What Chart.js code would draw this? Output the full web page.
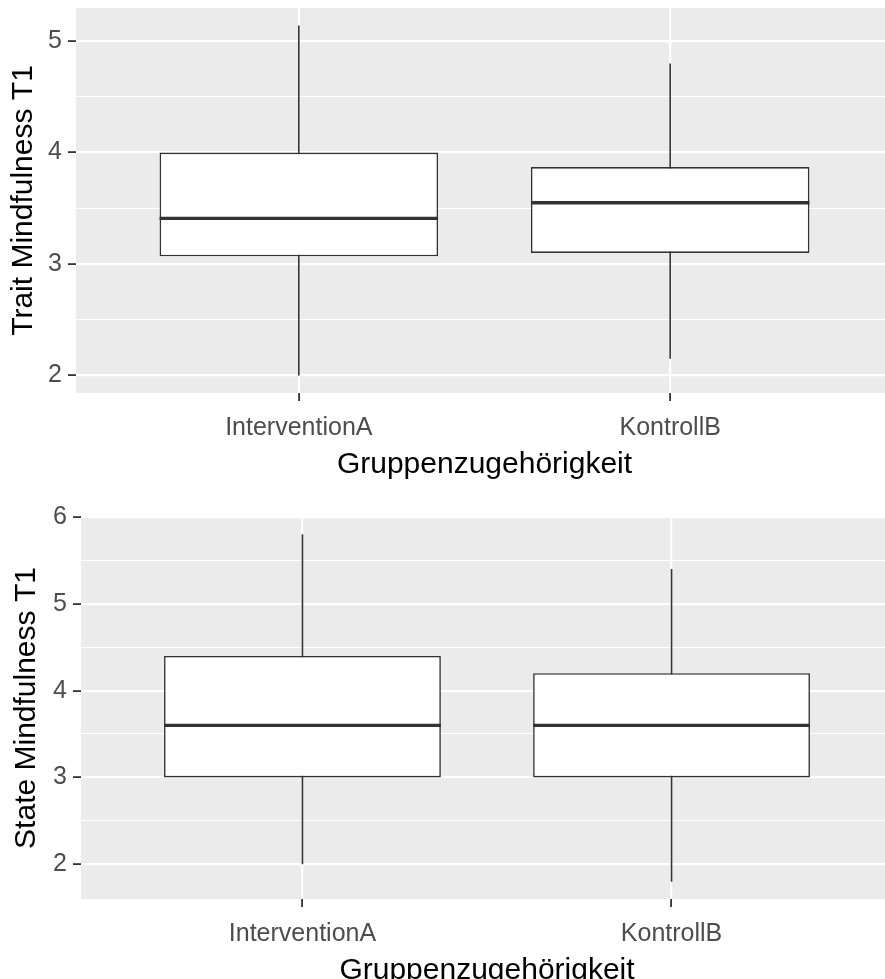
<!DOCTYPE html>
<html>
<head>
<meta charset="utf-8">
<script src="https://cdn.jsdelivr.net/npm/chart.js@4"></script>
<style>
  html, body { margin: 0; padding: 0; background: #fff; overflow: hidden; }
  .plot { position: relative; width: 893px; }
</style>
</head>
<body>
<div class="plot" style="height:493px"><canvas id="traitChart" width="893" height="493"></canvas></div>
<div class="plot" style="height:506px"><canvas id="stateChart" width="893" height="506"></canvas></div>
<script>
// groups on the x axis
const groups = ['InterventionA', 'KontrollB'];

// Trait Mindfulness T1 (box stats per group)
const traitLow  = [2.00, 2.15];
const traitQ1   = [3.07, 3.10];
const traitMed  = [3.41, 3.55];
const traitQ3   = [4.00, 3.87];
const traitHigh = [5.14, 4.80];

// State Mindfulness T1
const stateLow  = [2.0, 1.8];
const stateQ1   = [3.0, 3.0];
const stateMed  = [3.6, 3.6];
const stateQ3   = [4.4, 4.2];
const stateHigh = [5.8, 5.4];

const FONT = "'Liberation Sans', Arial, sans-serif";
const isMajor = (ctx) => ctx.tick && Number.isInteger(ctx.tick.value);

// grey ggplot panel
const panelBg = {
  id: 'panelBg',
  beforeDraw(chart) {
    const { ctx, chartArea: a } = chart;
    ctx.save();
    ctx.fillStyle = '#ebebeb';
    ctx.fillRect(a.left, a.top, a.right - a.left, a.bottom - a.top);
    ctx.restore();
  }
};

function boxPlugin(s) {
  return {
    id: 'boxParts',
    beforeDatasetsDraw(chart) {
      const { ctx, scales: { x, y } } = chart;
      ctx.save();
      ctx.strokeStyle = '#333333';
      ctx.lineWidth = 1.6;
      s.low.forEach((lo, i) => {
        const px = x.getPixelForValue(i + 1);
        ctx.beginPath();
        ctx.moveTo(px, y.getPixelForValue(s.high[i]));
        ctx.lineTo(px, y.getPixelForValue(lo));
        ctx.stroke();
      });
      ctx.restore();
    },
    afterDatasetsDraw(chart) {
      const { ctx, scales: { y } } = chart;
      const bars = chart.getDatasetMeta(0).data;
      ctx.save();
      ctx.strokeStyle = '#333333';
      ctx.lineWidth = 3.4;
      s.med.forEach((m, i) => {
        const bar = bars[i];
        const py = y.getPixelForValue(m);
        ctx.beginPath();
        ctx.moveTo(bar.x - bar.width / 2, py);
        ctx.lineTo(bar.x + bar.width / 2, py);
        ctx.stroke();
      });
      ctx.restore();
    }
  };
}

function makeBoxChart(id, yTitle, s, axisWidth, padTop, titlePad) {
  const lo = Math.min(...s.low), hi = Math.max(...s.high);
  const pad = (hi - lo) * 0.05;
  new Chart(document.getElementById(id), {
    type: 'bar',
    data: {
      datasets: [{
        data: groups.map((g, i) => ({ x: i + 1, y: [s.q1[i], s.q3[i]] })),
        backgroundColor: '#ffffff',
        borderColor: '#333333',
        borderWidth: 1.6,
        borderSkipped: false,
        categoryPercentage: 1,
        barPercentage: 0.75
      }]
    },
    options: {
      responsive: false,
      animation: false,
      events: [],
      layout: { padding: { top: padTop, right: 0, bottom: 0, left: 0 } },
      plugins: { legend: { display: false }, tooltip: { enabled: false } },
      scales: {
        x: {
          type: 'linear',
          min: 0.4,
          max: 2.6,
          offset: false,
          afterFit(sc) { sc.height = 100; sc.paddingLeft = 0; sc.paddingRight = 0; },
          border: { display: false },
          grid: { offset: false, color: '#ffffff', lineWidth: 2.2, tickColor: '#333333', tickWidth: 1.8, tickLength: 8 },
          ticks: {
            stepSize: 1, includeBounds: false, autoSkip: false, maxRotation: 0, minRotation: 0,
            padding: 12, color: '#4d4d4d', font: { family: FONT, size: 25 },
            callback: (v) => groups[v - 1] || ''
          },
          title: {
            display: true, text: 'Gruppenzugehörigkeit', color: '#000000',
            font: { family: FONT, size: 30 }, padding: { top: 0, bottom: 10 }
          }
        },
        y: {
          min: lo - pad,
          max: hi + pad,
          afterFit(sc) { sc.width = axisWidth; sc.paddingTop = 0; sc.paddingBottom = 0; },
          border: { display: false },
          grid: {
            color: '#ffffff',
            lineWidth: (ctx) => isMajor(ctx) ? 2.2 : 1.1,
            tickColor: (ctx) => isMajor(ctx) ? '#333333' : 'rgba(0,0,0,0)',
            tickWidth: 1.8,
            tickLength: 8
          },
          ticks: {
            stepSize: 0.5, includeBounds: false, autoSkip: false,
            padding: 6, color: '#4d4d4d', font: { family: FONT, size: 25 },
            callback: (v) => Number.isInteger(v) ? String(v) : ''
          },
          title: {
            display: true, text: yTitle, color: '#000000',
            font: { family: FONT, size: 30 }, padding: { top: titlePad, bottom: 0 }
          }
        }
      }
    },
    plugins: [panelBg, boxPlugin(s)]
  });
}

makeBoxChart('traitChart', 'Trait Mindfulness T1',
  { low: traitLow, q1: traitQ1, med: traitMed, q3: traitQ3, high: traitHigh }, 76, 8, 6);
makeBoxChart('stateChart', 'State Mindfulness T1',
  { low: stateLow, q1: stateQ1, med: stateMed, q3: stateQ3, high: stateHigh }, 81, 24, 9);
</script>
</body>
</html>
